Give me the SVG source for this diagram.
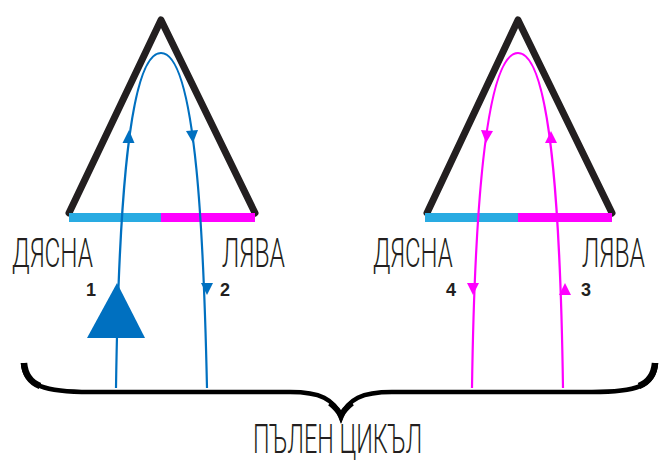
<svg xmlns="http://www.w3.org/2000/svg" width="659" height="463" viewBox="0 0 659 463">
<style>
.tri{fill:none;stroke:#231f20;stroke-width:7;stroke-linejoin:round;stroke-linecap:round}
.lbl{font-family:Roboto,"Liberation Sans",sans-serif;font-weight:300;font-size:41px;fill:#231f20}
.num{font-family:"Liberation Sans",Arial,sans-serif;font-weight:bold;font-size:18px;fill:#231f20}
.blue{fill:none;stroke:#0070c0;stroke-width:2.2}
.mag{fill:none;stroke:#ff00ff;stroke-width:2.2}
.bh{fill:#0070c0}
.mh{fill:#ff00ff}
.brace{fill:none;stroke:#000}
</style>
<rect width="659" height="463" fill="#fff"/>
<g id="left-prism">
<polyline class="tri" points="69,213 161,20 255,213"/>
<rect x="69" y="213" width="92" height="9" fill="#29abe2"/>
<rect x="161" y="213" width="94" height="9" fill="#ff00ff"/>
</g>
<g id="right-prism">
<polyline class="tri" points="427,213 518,20 612,213"/>
<rect x="425" y="213" width="93" height="9" fill="#29abe2"/>
<rect x="518" y="213" width="94" height="9" fill="#ff00ff"/>
</g>
<g id="labels">
<text class="lbl" transform="translate(12,267) scale(0.6,1)" textLength="135" lengthAdjust="spacingAndGlyphs">ДЯСНА</text>
<text class="lbl" transform="translate(222,267) scale(0.6,1)" textLength="105" lengthAdjust="spacingAndGlyphs">ЛЯВА</text>
<text class="lbl" transform="translate(373,267) scale(0.6,1)" textLength="133" lengthAdjust="spacingAndGlyphs">ДЯСНА</text>
<text class="lbl" transform="translate(582,267) scale(0.6,1)" textLength="105" lengthAdjust="spacingAndGlyphs">ЛЯВА</text>
<text class="num" x="86" y="296">1</text>
<text class="num" x="220" y="296">2</text>
<text class="num" x="446" y="296">4</text>
<text class="num" x="581" y="296">3</text>
<text class="lbl" transform="translate(253,453) scale(0.6,1)" font-size="36" textLength="282" lengthAdjust="spacingAndGlyphs">ПЪЛЕН ЦИКЪЛ</text>
</g>
<g id="connectors">
<path class="blue" d="M116 388 C118 250 125 53 161 53 C197 53 204 250 207 388"/>
<path class="mag" d="M472 388 C474 250 482 53 518 53 C554 53 561 250 563 388"/>
<polygon class="bh" points="129,130 122.5,143 134.5,143"/>
<polygon class="bh" points="193,143 186,131 198,130"/>
<polygon class="bh" points="207,295 201,283 213,283"/>
<polygon class="bh" points="117,283 87,338 145,338"/>
<polygon class="mh" points="486,143 481,130 493,131"/>
<polygon class="mh" points="551,131 545,143 557,143"/>
<polygon class="mh" points="473,295 467,283 479,283"/>
<polygon class="mh" points="565,283 559,295 571,295"/>
</g>
<g id="brace">
<path class="brace" stroke-width="4.5" d="M23 363 C24 386 46 392 90 392 L290 392 C320 392 334 399 341 417 C348 399 362 392 392 392 L592 392 C636 392 655 386 656 363"/>
<path class="brace" stroke-width="6.5" d="M24 363 C25 375 30 382 40 386"/>
<path class="brace" stroke-width="6.5" d="M655 363 C654 375 649 382 639 386"/>
<path class="brace" stroke-width="6" d="M330 403 C335 407 339 411 341 416 C343 411 347 407 352 403"/>
</g>
</svg>
